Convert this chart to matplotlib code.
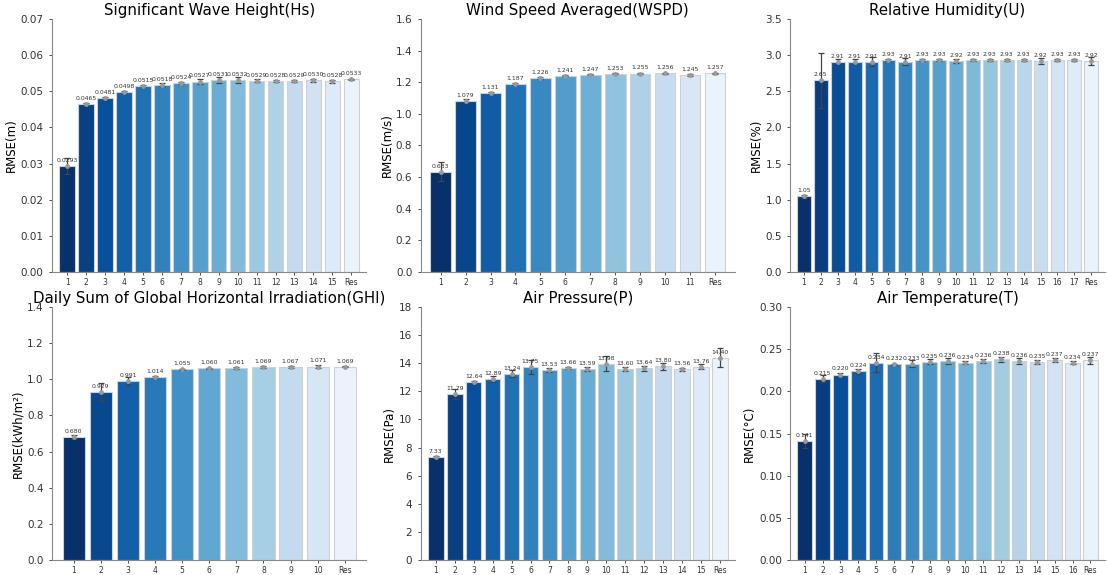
import numpy as np
import matplotlib.pyplot as plt

# RMSE per number of decomposed components (last bar = residual)
hs_x = [str(i) for i in range(1, 16)] + ['Res']
hs_rmse = [0.0293, 0.0465, 0.0481, 0.0498, 0.0515, 0.0518, 0.0524, 0.0527,
           0.0531, 0.0532, 0.0529, 0.0528, 0.0529, 0.0530, 0.0528, 0.0533]
hs_err = [0.0022, 0.0003, 0.0004, 0.0003, 0.0003, 0.0004, 0.0003, 0.0006,
          0.0009, 0.0008, 0.0004, 0.0003, 0.0003, 0.0004, 0.0004, 0.0002]

wspd_x = [str(i) for i in range(1, 12)] + ['Res']
wspd_rmse = [0.633, 1.079, 1.131, 1.187, 1.226, 1.241, 1.247, 1.253, 1.255, 1.256, 1.245, 1.257]
wspd_err = [0.06, 0.012, 0.008, 0.005, 0.004, 0.004, 0.004, 0.004, 0.004, 0.004, 0.004, 0.004]

u_x = [str(i) for i in range(1, 18)] + ['Res']
u_rmse = [1.05, 2.65, 2.91, 2.91, 2.91, 2.93, 2.91, 2.93, 2.93, 2.92,
          2.93, 2.93, 2.93, 2.93, 2.92, 2.93, 2.93, 2.92]
u_err = [0.02, 0.38, 0.03, 0.03, 0.06, 0.01, 0.05, 0.01, 0.01, 0.03,
         0.01, 0.01, 0.01, 0.01, 0.04, 0.01, 0.01, 0.05]

ghi_x = [str(i) for i in range(1, 11)] + ['Res']
ghi_rmse = [0.680, 0.929, 0.991, 1.014, 1.055, 1.060, 1.061, 1.069, 1.067, 1.071, 1.069]
ghi_err = [0.01, 0.05, 0.02, 0.007, 0.004, 0.005, 0.005, 0.005, 0.005, 0.006, 0.003]

p_x = [str(i) for i in range(1, 16)] + ['Res']
p_rmse = [7.33, 11.79, 12.64, 12.89, 13.24, 13.75, 13.53, 13.66, 13.59, 13.98,
          13.60, 13.64, 13.80, 13.56, 13.76, 14.40]
p_err = [0.08, 0.35, 0.1, 0.2, 0.25, 0.5, 0.12, 0.1, 0.12, 0.55,
         0.15, 0.2, 0.25, 0.08, 0.2, 0.7]

t_x = [str(i) for i in range(1, 17)] + ['Res']
t_rmse = [0.141, 0.215, 0.220, 0.224, 0.234, 0.232, 0.233, 0.235, 0.236, 0.234,
          0.236, 0.238, 0.236, 0.235, 0.237, 0.234, 0.237]
t_err = [0.008, 0.004, 0.002, 0.003, 0.011, 0.001, 0.004, 0.003, 0.003, 0.002,
         0.002, 0.003, 0.004, 0.002, 0.002, 0.002, 0.004]

panels = [
    ('Significant Wave Height(Hs)', 'RMSE(m)', hs_x, hs_rmse, hs_err, '%.4f', (0, 0.07), 0.01, '%.2f'),
    ('Wind Speed Averaged(WSPD)', 'RMSE(m/s)', wspd_x, wspd_rmse, wspd_err, '%.3f', (0, 1.6), 0.2, '%.1f'),
    ('Relative Humidity(U)', 'RMSE(%)', u_x, u_rmse, u_err, '%.2f', (0, 3.5), 0.5, '%.1f'),
    ('Daily Sum of Global Horizontal Irradiation(GHI)', 'RMSE(kWh/m²)', ghi_x, ghi_rmse, ghi_err, '%.3f', (0, 1.4), 0.2, '%.1f'),
    ('Air Pressure(P)', 'RMSE(Pa)', p_x, p_rmse, p_err, '%.2f', (0, 18), 2, '%d'),
    ('Air Temperature(T)', 'RMSE(°C)', t_x, t_rmse, t_err, '%.3f', (0, 0.30), 0.05, '%.2f'),
]

fig = plt.figure(figsize=(11.07, 5.75), dpi=100)
lefts = [0.047, 0.380, 0.714]
bottoms = [0.527, 0.026]
w, h = 0.284, 0.440

for k, (title, ylabel, xl, vals, errs, fmt, ylim, step, yfmt) in enumerate(panels):
    ax = fig.add_axes([lefts[k % 3], bottoms[k // 3], w, h])
    n = len(vals)
    x = np.arange(n)
    colors = plt.cm.Blues(np.linspace(1.0, 0.07, n))
    ax.bar(x, vals, width=0.82, color=colors, edgecolor='#d0d0d0', linewidth=0.8)
    ax.errorbar(x, vals, yerr=errs, fmt='none', ecolor='#444444', elinewidth=0.9,
                capsize=2.5, capthick=0.9)
    ax.scatter(x, vals, s=6, color='#999999', zorder=3)
    for xi, v in zip(x, vals):
        ax.text(xi, v + 0.012 * (ylim[1] - ylim[0]), fmt % v, ha='center', va='bottom',
                fontsize=4.4, color='#333333')
    ax.set_xticks(x)
    ax.set_xticklabels(xl, fontsize=5.5)
    ax.set_xlim(-0.8, n - 0.2)
    ax.set_ylim(*ylim)
    ticks = np.arange(ylim[0], ylim[1] + step / 2, step)
    ax.set_yticks(ticks)
    ax.set_yticklabels([yfmt % t for t in ticks], fontsize=7.5)
    ax.set_ylabel(ylabel, fontsize=8.5, labelpad=2)
    ax.set_title(title, fontsize=10.8, pad=3)
    for s in ['top', 'right']:
        ax.spines[s].set_visible(False)
    for s in ['left', 'bottom']:
        ax.spines[s].set_color('#888888')
    ax.tick_params(axis='both', colors='#333333', length=2.5, width=0.6)
    ax.tick_params(axis='x', pad=1.5)

fig.savefig('out.png', dpi=100)
